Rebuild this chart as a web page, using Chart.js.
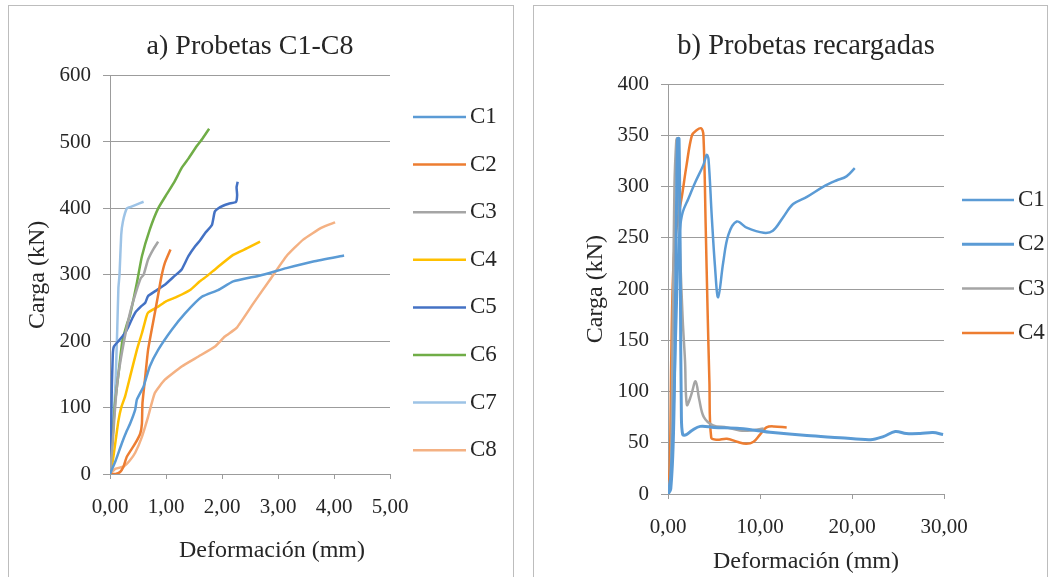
<!DOCTYPE html>
<html>
<head>
<meta charset="utf-8">
<title>Carga - Deformación</title>
<script src="https://cdn.jsdelivr.net/npm/chart.js@4.4.0/dist/chart.umd.min.js"></script>
<style>
  html, body { margin: 0; padding: 0; background: #ffffff; }
  body { width: 1054px; height: 577px; position: relative; overflow: hidden; }
  .frame { position: absolute; border: 1px solid #bdbdbd; box-sizing: border-box; }
  canvas { position: absolute; top: 0; }
</style>
</head>
<body>
<div class="frame" style="left:8px; top:5px; width:506px; height:600px;"></div>
<div class="frame" style="left:533px; top:5px; width:515px; height:600px;"></div>
<canvas id="chartA" width="520" height="577" style="left:0;"></canvas>
<canvas id="chartB" width="527" height="577" style="left:527px;"></canvas>
<script>
// ---- a) Probetas C1-C8 : [deformación (mm), carga (kN)] ----
const a_C1 = [[0,0],[0.1,20],[0.21,46],[0.3,65],[0.36,76],[0.45,97],[0.48,112],[0.6,132],[0.71,162],[0.86,187],[1.1,217],[1.34,242],[1.64,267],[1.93,277],[2.2,290],[2.68,299],[3.15,310],[3.63,320],[4.18,329]];
const a_C2 = [[0,0],[0.1,0],[0.18,3],[0.24,11],[0.3,26],[0.45,46],[0.54,61],[0.57,76],[0.58,107],[0.63,147],[0.68,187],[0.8,242],[0.86,270],[0.92,298],[0.98,318],[1.08,338]];
const a_C3 = [[0,0],[0.05,50],[0.1,110],[0.15,150],[0.25,200],[0.35,240],[0.45,270],[0.55,295],[0.6,300],[0.68,323],[0.77,338],[0.86,350]];
const a_C4 = [[0,0],[0.05,20],[0.1,50],[0.15,80],[0.2,100],[0.27,117],[0.36,147],[0.48,187],[0.57,212],[0.65,237],[0.68,243],[0.86,252],[1.0,260],[1.2,267],[1.43,277],[1.6,290],[1.73,298],[1.9,310],[2.2,330],[2.45,340],[2.68,350]];
const a_C5 = [[0,0],[0.02,60],[0.03,120],[0.05,180],[0.07,192],[0.15,200],[0.25,210],[0.33,222],[0.4,235],[0.45,243],[0.55,252],[0.63,258],[0.68,268],[0.8,275],[0.98,285],[1.15,298],[1.28,308],[1.4,328],[1.52,343],[1.61,352],[1.7,363],[1.82,375],[1.87,395],[1.93,400],[2.02,404],[2.12,407],[2.25,410],[2.27,420],[2.26,432],[2.28,440]];
const a_C6 = [[0,0],[0.05,60],[0.09,107],[0.15,150],[0.22,200],[0.3,225],[0.36,240],[0.48,288],[0.57,328],[0.71,368],[0.86,400],[1.01,421],[1.15,440],[1.28,461],[1.4,475],[1.55,494],[1.65,505],[1.77,520]];
const a_C7 = [[0,0],[0.05,60],[0.1,140],[0.13,220],[0.15,280],[0.17,300],[0.2,360],[0.23,380],[0.3,400],[0.36,402],[0.45,405],[0.6,410]];
const a_C8 = [[0,0],[0.1,8],[0.24,11],[0.35,20],[0.45,32],[0.57,56],[0.68,86],[0.8,122],[0.98,142],[1.28,162],[1.58,177],[1.875,192],[2.05,207],[2.26,220],[2.56,257],[2.86,293],[3.15,328],[3.45,353],[3.78,371],[4.02,379]];

// ---- b) Probetas recargadas ----
const b_C1 = [[0,0],[0.3,20],[0.6,80],[0.9,170],[1.1,230],[1.3,259],[1.6,275],[2.2,288],[3.0,305],[3.84,321],[4.2,331],[4.4,327],[4.75,272],[5.1,223],[5.45,192],[6.0,226],[6.56,253],[7.47,266],[8.55,260],[10.4,255],[11.4,257],[12.5,270],[13.6,283],[15.1,290],[16.9,300],[18.3,306],[19.4,310],[20.3,318]];
const b_C2 = [[0,0],[0.3,5],[0.6,60],[0.8,180],[0.95,300],[1.05,347],[1.2,347],[1.35,200],[1.45,80],[1.6,58],[2.0,58],[2.6,62],[3.5,66],[5,65],[7.8,64],[11.4,60],[15.1,57],[18.7,55],[22,53],[23.4,56],[24.7,61],[25.9,59],[27.4,59],[28.8,60],[29.9,58]];
const b_C3 = [[0,0],[0.3,20],[0.5,150],[0.7,300],[0.9,345],[1.0,347],[1.15,300],[1.3,240],[1.6,170],[1.85,130],[2.05,87],[2.5,96],[3.0,110],[3.4,92],[3.9,75],[4.9,67],[6.4,65],[7.8,62],[9,62],[10.4,64]];
const b_C4 = [[0,0],[0.2,30],[0.35,130],[0.5,200],[0.7,240],[1.0,265],[1.5,290],[2.0,320],[2.6,350],[3.1,355],[3.6,357],[3.85,350],[4.1,260],[4.3,180],[4.5,110],[4.7,55],[5.3,53],[6.4,54],[7.5,51],[8.5,49],[9.3,51],[10.0,58],[10.7,65],[11.5,66],[12.9,65]];

// axis ticks
const xTicksA = [0, 1, 2, 3, 4, 5];
const yTicksA = [0, 100, 200, 300, 400, 500, 600];
const xTicksB = [0, 10, 20, 30];
const yTicksB = [0, 50, 100, 150, 200, 250, 300, 350, 400];

const X_TITLE = 'Deformación (mm)';
const Y_TITLE = 'Carga (kN)';

const FONT = "'Liberation Serif', 'DejaVu Serif', serif";
const TEXT = '#262626';
const GRID = '#9c9c9c';

const toXY = arr => arr.map(([x, y]) => ({ x, y }));
const fmtX = v => Number(v).toFixed(2).replace('.', ',');

// series legend drawn to the right of the plot
const sideLegend = {
  id: 'sideLegend',
  afterDraw(chart, args, o) {
    const ctx = chart.ctx;
    ctx.save();
    ctx.font = o.size + 'px ' + FONT;
    ctx.textBaseline = 'middle';
    chart.data.datasets.forEach((ds, i) => {
      const y = o.top + i * o.gap;
      ctx.strokeStyle = ds.borderColor;
      ctx.lineWidth = ds.borderWidth;
      ctx.beginPath();
      ctx.moveTo(o.x, y);
      ctx.lineTo(o.x + o.len, y);
      ctx.stroke();
      ctx.fillStyle = TEXT;
      ctx.fillText(ds.label, o.x + o.len + 4, y);
    });
    ctx.restore();
  }
};

// horizontal axis caption, centred at an offset from the plot centre
const axisCaption = {
  id: 'axisCaption',
  afterDraw(chart, args, o) {
    if (!o.text) return;
    const ctx = chart.ctx;
    const area = chart.chartArea;
    ctx.save();
    ctx.font = o.size + 'px ' + FONT;
    ctx.fillStyle = TEXT;
    ctx.textAlign = 'center';
    ctx.textBaseline = 'middle';
    ctx.fillText(o.text, (area.left + area.right) / 2 + o.shift, o.y);
    ctx.restore();
  }
};

function series(label, data, color, width) {
  return { label, data: toXY(data), borderColor: color, backgroundColor: color,
           borderWidth: width, pointRadius: 0, showLine: true, fill: false };
}

function makeOptions(cfg) {
  return {
    responsive: false,
    animation: false,
    layout: { padding: { left: 0, top: 0, right: cfg.padRight, bottom: 0 } },
    elements: { line: { tension: cfg.tension, capBezierPoints: true } },
    plugins: {
      legend: { display: false },
      tooltip: { enabled: false },
      title: {
        display: true, text: cfg.title, fullSize: false, color: TEXT,
        font: { family: FONT, size: cfg.titleSize, weight: 'normal' },
        padding: { top: cfg.titleTop, bottom: cfg.titleBottom }
      },
      sideLegend: cfg.legend,
      axisCaption: cfg.caption || {}
    },
    scales: {
      x: {
        type: 'linear', min: cfg.xTicks[0], max: cfg.xTicks[cfg.xTicks.length - 1],
        afterBuildTicks: s => { s.ticks = cfg.xTicks.map(v => ({ value: v })); },
        afterFit: s => { s.height = 577 - cfg.bottom; },
        border: { display: true, color: GRID, width: 1 },
        grid: { drawOnChartArea: false, drawTicks: true, tickLength: 5, color: GRID },
        ticks: { callback: fmtX, color: TEXT, padding: 16, maxRotation: 0,
                 font: { family: FONT, size: 21 } },
        title: { display: !cfg.caption, text: X_TITLE, color: TEXT,
                 font: { family: FONT, size: 24 }, padding: { top: 0, bottom: cfg.xTitleBottom } }
      },
      y: {
        type: 'linear', min: cfg.yTicks[0], max: cfg.yTicks[cfg.yTicks.length - 1],
        afterBuildTicks: s => { s.ticks = cfg.yTicks.map(v => ({ value: v })); },
        afterFit: s => { s.width = cfg.left; },
        border: { display: true, color: GRID, width: 1 },
        grid: { color: GRID, lineWidth: 1, drawTicks: true, tickLength: 7 },
        ticks: { color: TEXT, padding: 12, font: { family: FONT, size: 21 } },
        title: { display: true, text: Y_TITLE, color: TEXT,
                 font: { family: FONT, size: 24 }, padding: { top: cfg.yTitleTop, bottom: 0 } }
      }
    }
  };
}

new Chart(document.getElementById('chartA'), {
  type: 'scatter',
  data: {
    datasets: [
      series('C1', a_C1, '#5B9BD5', 2.5),
      series('C2', a_C2, '#ED7D31', 2.5),
      series('C3', a_C3, '#A5A5A5', 2.5),
      series('C4', a_C4, '#FFC000', 2.5),
      series('C5', a_C5, '#4472C4', 2.5),
      series('C6', a_C6, '#70AD47', 2.5),
      series('C7', a_C7, '#9DC3E6', 2.5),
      series('C8', a_C8, '#F4B183', 2.5)
    ]
  },
  options: makeOptions({
    title: 'a) Probetas C1-C8', titleSize: 28, xTicks: xTicksA, yTicks: yTicksA,
    padRight: 130, left: 110, bottom: 474, titleTop: 30, titleBottom: 12,
    yTitleTop: 23, xTitleBottom: 11, tension: 0.15,
    caption: { text: X_TITLE, size: 24, shift: 22, y: 551 },
    legend: { x: 413, len: 53, top: 117, gap: 47.6, size: 23 }
  }),
  plugins: [sideLegend, axisCaption]
});

new Chart(document.getElementById('chartB'), {
  type: 'scatter',
  data: {
    datasets: [
      series('C1', b_C1, '#5B9BD5', 2.5),
      series('C2', b_C2, '#5B9BD5', 3),
      series('C3', b_C3, '#A5A5A5', 2.5),
      series('C4', b_C4, '#ED7D31', 2.5)
    ]
  },
  options: makeOptions({
    title: 'b) Probetas recargadas', titleSize: 28.5, xTicks: xTicksB, yTicks: yTicksB,
    padRight: 110, left: 141, bottom: 494, titleTop: 29, titleBottom: 21,
    yTitleTop: 54, xTitleBottom: 1, tension: 0.35,
    legend: { x: 435, len: 52, top: 200, gap: 44.3, size: 23 }
  }),
  plugins: [sideLegend, axisCaption]
});
</script>
</body>
</html>
